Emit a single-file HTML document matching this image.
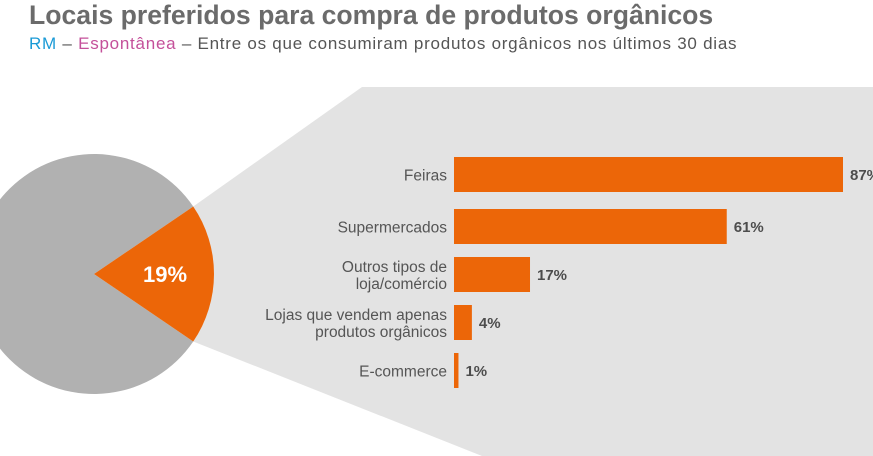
<!DOCTYPE html>
<html><head><meta charset="utf-8"><style>
body{margin:0;width:873px;height:456px;background:#fff;overflow:hidden;font-family:"Liberation Sans",sans-serif;}
#title{position:absolute;left:29px;top:0px;font-size:26.6px;font-weight:bold;color:#6b6b6b;letter-spacing:0px;white-space:nowrap;}
#sub{position:absolute;left:29px;top:34px;font-size:17px;color:#555;white-space:nowrap;letter-spacing:0.75px;}
svg{position:absolute;left:0;top:0;}
</style></head><body>
<div id="title">Locais preferidos para compra de produtos orgânicos</div>
<div id="sub"><span style="color:#1a9ad6">RM</span> – <span style="color:#c4509a">Espontânea</span> – Entre os que consumiram produtos orgânicos nos últimos 30 dias</div>
<svg id="chart" width="873" height="456"></svg>
<script>
const pieValue = 19;
const categories = [["Feiras"],["Supermercados"],["Outros tipos de","loja/comércio"],["Lojas que vendem apenas","produtos orgânicos"],["E-commerce"]];
const values = [87,61,17,4,1];
const valueLabels = ["87%","61%","17%","4%","1%"];

const NS="http://www.w3.org/2000/svg";
const svg=document.getElementById('chart');
function mk(t,a){const e=document.createElementNS(NS,t);for(const k in a)e.setAttribute(k,a[k]);svg.appendChild(e);return e;}
const cx=94,cy=274,r=120;
const half=pieValue/100*Math.PI;
const p1=[cx+r*Math.cos(-half),cy+r*Math.sin(-half)],p2=[cx+r*Math.cos(half),cy+r*Math.sin(half)];
let bg=mk('polygon',{points:`${p1[0]},${p1[1]} 362,87 873,87 873,456 482,456 ${p2[0]},${p2[1]}`,fill:'#e3e3e3'});


let rest=mk('path',{d:`M${cx},${cy} L${p2[0]},${p2[1]} A${r},${r} 0 1 1 ${p1[0]},${p1[1]} Z`,fill:'#b1b1b1'});


let sl=mk('path',{d:`M${cx},${cy} L${p1[0]},${p1[1]} A${r},${r} 0 0 1 ${p2[0]},${p2[1]} Z`,fill:'#ec6608'});


let pl=mk('text',{x:165,y:282,'text-anchor':'middle','font-size':22,'font-weight':'bold',fill:'#fff'});
pl.textContent=pieValue+'%';



const x0=454, scale=389/87;
function xs(v){return v*scale;}
function ys(i){return 157+i*48+(i>0?4:0);}
const bh=35;
values.forEach((v,i)=>{
  const y=ys(i);
  const b=mk('rect',{x:x0,y:y,width:xs(v),height:bh,fill:'#ec6608'});
  
  
  const vl=mk('text',{x:x0+xs(v)+7,y:y+bh/2+5.5,'font-size':15,'font-weight':'bold',fill:'#4d4d4d'});
  vl.textContent=valueLabels[i];
  
  
  const lines=categories[i];
  const t=mk('text',{x:447,'text-anchor':'end','font-size':15.5,fill:'#555'});
  
  
  const c=y+bh/2+6;
  lines.forEach((ln,j)=>{
    const ts=document.createElementNS(NS,'tspan');
    ts.setAttribute('x',447);
    ts.setAttribute('y',c+(j-(lines.length-1)/2)*17);
    ts.textContent=ln;t.appendChild(ts);
  });
});
</script>
</body></html>
